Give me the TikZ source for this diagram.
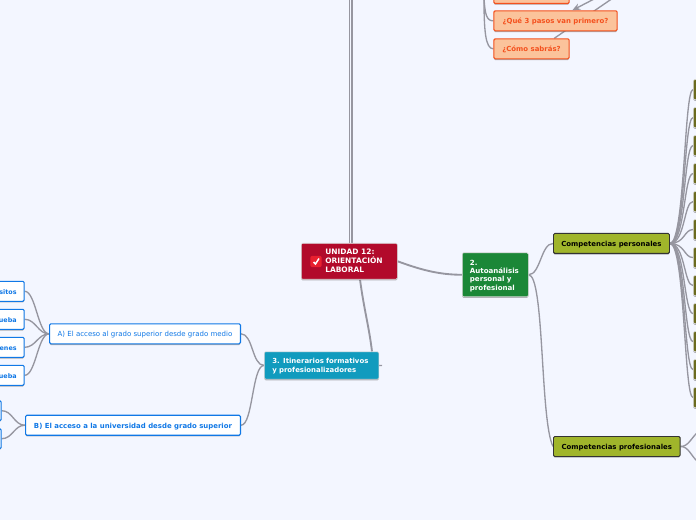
\documentclass[tikz,border=0pt]{standalone}
\usepackage{xcolor}
\usepackage{fontspec}
\setmainfont{DejaVu Sans}
\usetikzlibrary{arrows.meta, calc, backgrounds, shadows}
\definecolor{bgmap}{HTML}{F3F6FF}
\definecolor{linkgray}{HTML}{9696A0}
\definecolor{rootred}{HTML}{B20A2B}
\definecolor{greenbox}{HTML}{1B8737}
\definecolor{tealbox}{HTML}{109BBE}
\definecolor{olivebox}{HTML}{A0B52B}
\definecolor{darkolive}{HTML}{6B6B1F}
\definecolor{bluetext}{HTML}{1078E6}
\definecolor{orangefill}{HTML}{FBC39B}
\definecolor{orangeline}{HTML}{F4511E}
\definecolor{checkred}{HTML}{E8202F}
\tikzset{
	softshadow/.style={drop shadow={shadow xshift=0pt, shadow yshift=-0.9pt, fill=black!60, opacity=0.5}},
	topicbox/.style={draw, rounded corners=1pt, inner sep=0pt, text height=5.4pt, font=\bfseries\fontsize{5.2pt}{6.4pt}\selectfont, align=center, anchor=north west, softshadow},
	mainbox/.style={topicbox, draw=white!70!gray, line width=0.4pt, text=white, align=left},
	bluebox/.style={topicbox, draw=bluetext, fill=white, text=bluetext, line width=0.8pt, minimum height=15pt},
	cutbox/.style={bluebox, anchor=east, inner xsep=5.6pt, font=\bfseries\fontsize{4.8pt}{6pt}\selectfont},
	orangebox/.style={topicbox, draw=orangeline, fill=orangefill, text=orangeline, line width=0.8pt, minimum height=15pt},
	olivenode/.style={topicbox, draw=black!80, fill=olivebox, text=black, line width=0.7pt, minimum height=15pt},
	stubbox/.style={topicbox, draw=black!12, fill=darkolive, minimum width=12pt, minimum height=15pt},
	link/.style={draw=linkgray, line width=1pt},
	biglink/.style={draw=linkgray, line width=1.4pt},
}
\begin{document}
\begin{tikzpicture}[x=0.75pt,y=-0.75pt]
	\useasboundingbox (0,0) rectangle (696,520);

	% free ends
	\coordinate (topa) at (349.5,-2);
	\coordinate (topb) at (352,-2);
	\coordinate (orangetop) at (484,-2);
	\coordinate (diagfree) at (613,-2);
	\coordinate (arrowfree) at (596,-2);
	\coordinate (profa) at (698,432);
	\coordinate (profb) at (698,462);
	\coordinate (itintick) at (382,365.5);

	% central topics
	\node[mainbox, fill=rootred, minimum width=72pt, minimum height=27pt] (root) at (301,243) {};
	\node[mainbox, fill=greenbox, minimum width=49.5pt, minimum height=33pt, text width=38pt, font=\bfseries\fontsize{5.3pt}{6.3pt}\selectfont] (auto) at (462,252.5) {2.\\Autoanálisis\\personal y\\profesional};
	\node[mainbox, fill=tealbox, minimum width=86pt, minimum height=20.5pt, text width=74pt, font=\bfseries\fontsize{5.2pt}{6.8pt}\selectfont] (itin) at (264,351.5) {3. Itinerarios formativos\\y profesionalizadores};

	% second level
	\node[olivenode, minimum width=87pt] (cpers) at (553,233) {Competencias personales};
	\node[olivenode, minimum width=95pt] (cprof) at (553,436) {Competencias profesionales};
	\node[bluebox, font=\fontsize{5.25pt}{6.4pt}\selectfont, minimum width=143.2pt] (acceso) at (49,323.3) {A) El acceso al grado superior desde grado medio};
	\node[bluebox, minimum width=161.2pt] (univ) at (25,414.7) {B) El acceso a la universidad desde grado superior};
	\node[orangebox, minimum width=56.5pt] (pasoa) at (493.3,-17) {};
	\node[orangebox, minimum width=92.5pt] (pasob) at (493.3,10.3) {¿Qué 3 pasos van primero?};
	\node[orangebox, minimum width=56.5pt] (pasoc) at (493.3,38.3) {¿Cómo sabrás?};

	% cut off at the left border
	\node[cutbox] (reqa) at (24.7,291.3) {sitos};
	\node[cutbox] (reqb) at (24.7,319.3) {ueba};
	\node[cutbox] (reqc) at (24.7,347.3) {enes};
	\node[cutbox] (reqd) at (24.7,375.3) {ueba};
	\node[cutbox, minimum width=30pt] (unia) at (1.7,410.7) {};
	\node[cutbox, minimum width=30pt] (unib) at (1.7,438.7) {};

	% third level on the right
	\foreach \i/\y in {1/79.3,2/107.3,3/135.3,4/163.3,5/191.3,6/219.3,7/247.3,8/275.3,9/303.3,10/331.3,11/359.3,12/387.3}
		\node[stubbox] (comp\i) at (693,\y) {};

	% connectors
	\begin{scope}[on background layer]
		\fill[bgmap] (0,0) rectangle (696,520);
		\draw[biglink] (topa) -- ($(root.north west)+(48.5,0)$);
		\draw[biglink] (topb) -- ($(root.north west)+(51,0)$);
		\draw[biglink] (root.east) .. controls +(22,8) and +(-24,0) .. (auto.west);
		\draw[biglink] ($(root.south west)+(59,0)$) .. controls +(4,30) and +(-3,-25) .. ($(itin.north west)+(108,0)$);
		\draw[link] (auto.east) .. controls +(12,0) and +(-12,0) .. (cpers.west);
		\draw[link] (auto.east) .. controls +(16,0) and +(-13,-26) .. (cprof.west);
		\draw[link] (itin.west) .. controls +(-12,0) and +(12,0) .. (acceso.east);
		\draw[link] (itin.west) .. controls +(-12,0) and +(12,0) .. (univ.east);
		\draw[link] (itin.east) -- (itintick);
		\foreach \req in {reqa,reqb,reqc,reqd}
			\draw[link] (\req.east) .. controls +(11,0) and +(-11,0) .. (acceso.west);
		\foreach \uni in {unia,unib}
			\draw[link] (\uni.east) .. controls +(11,0) and +(-11,0) .. (univ.west);
		\draw[link] (cprof.east) .. controls +(8,0) and +(-7,6) .. (profa);
		\draw[link] (cprof.east) .. controls +(8,0) and +(-7,-6) .. (profb);
		\draw[link] (orangetop) .. controls +(1,16) and +(-7,0) .. (pasob.west);
		\draw[link] (orangetop) .. controls +(0,32) and +(-8,0) .. (pasoc.west);
		\draw[link] (diagfree) -- ($(pasoc.north west)+(61,0)$);
		\foreach \i in {1,...,12}
			\draw[link] (cpers.east) .. controls +(15,0) and +(-9,0) .. (comp\i.west);
	\end{scope}
	\draw[link, -{Stealth[length=6pt,width=5pt]}] (arrowfree) -- ($(pasob.north west)+(79,0)$);

	% root text and check mark
	\node[inner sep=0pt, fill=checkred, rounded corners=1.5pt, minimum size=8.5pt] (checkbox) at (316,261.5) {};
	\draw[white, line width=1.1pt] ($(checkbox)+(-2.5,0.5)$) -- ($(checkbox)+(-0.5,2.5)$) -- ($(checkbox)+(3,-3)$);
	\node[anchor=north west, inner sep=0pt, align=left, text=white, font=\bfseries\fontsize{5.6pt}{6.7pt}\selectfont] (roottext) at (325,249) {UNIDAD 12:\\ORIENTACIÓN\\LABORAL};
\end{tikzpicture}
\end{document}
